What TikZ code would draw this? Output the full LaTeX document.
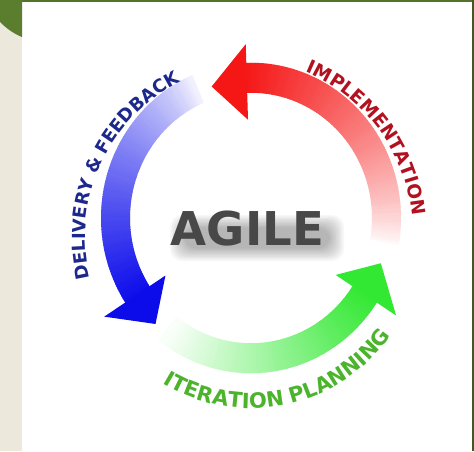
\documentclass[tikz,border=0pt]{standalone}
\usepackage{fontspec}
\newfontfamily\agfont{DejaVu Sans}
\usetikzlibrary{decorations.text}
\definecolor{agred}{RGB}{245,22,22}
\definecolor{agblue}{RGB}{12,12,235}
\definecolor{aggreen}{RGB}{50,232,50}
\definecolor{agnavy}{RGB}{28,40,140}
\definecolor{agdred}{RGB}{178,18,32}
\definecolor{agdgreen}{RGB}{76,180,44}
\definecolor{aggray}{RGB}{72,72,72}
\definecolor{agbeige}{RGB}{236,233,220}
\definecolor{agframe}{RGB}{84,116,44}
\definecolor{agtri}{RGB}{90,125,46}
\definecolor{agedge}{RGB}{66,88,40}
\begin{document}
\begin{tikzpicture}[x=1pt,y=1pt,
  curvetext/.style={decorate, decoration={text along path, text align=center, #1}}]
\useasboundingbox (0,0) rectangle (474,451);
\fill[white] (0,0) rectangle (474,451);
\fill[agbeige] (0,0) rectangle (22,451);
\fill[agframe] (0,449) rectangle (474,451);
\fill[agedge] (472,0) rectangle (474,451);
\fill[agtri] (0,451) -- (22,451) -- (22,414) .. controls (14,417) and (6,423) .. (0,429) -- cycle;
% ring arrows
\begin{scope}[shift={(251,233)}, yscale=1.035]
  % red
  \foreach \a in {-10,-9,...,91} {
    \pgfmathtruncatemacro\p{max(2,100*((\a+11)/103)^0.75)}
    \fill[agred!\p!white] (\a:121) arc[start angle=\a, end angle=\a+1.4, radius=121]
      -- (\a+1.4:150) arc[start angle=\a+1.4, end angle=\a, radius=150] -- cycle;
  }
  \fill[agred] (91.8:95) -- (107.2:133) -- (91.8:168) -- cycle;
  % blue
  \foreach \a in {113,114,...,212} {
    \pgfmathtruncatemacro\p{max(6,100*((\a-112)/101)^0.7)}
    \fill[agblue!\p!white] (\a:121) arc[start angle=\a, end angle=\a+1.4, radius=121]
      -- (\a+1.4:150) arc[start angle=\a+1.4, end angle=\a, radius=150] -- cycle;
  }
  \fill[agblue] (213:102) -- (227:140) -- (213:175) -- cycle;
  % green
  \foreach \a in {232,233,...,326} {
    \pgfmathtruncatemacro\p{max(3,100*((\a-231)/96)^1.0)}
    \fill[aggreen!\p!white] (\a:121) arc[start angle=\a, end angle=\a+1.4, radius=121]
      -- (\a+1.4:150) arc[start angle=\a+1.4, end angle=\a, radius=150] -- cycle;
  }
  \fill[aggreen] (327:101) -- (341.4:137) -- (327:173) -- cycle;
\end{scope}
% AGILE soft shadow
\foreach \i in {0,1,...,9} {
  \fill[black, opacity=0.03, rounded corners=12pt]
    (170+1.6*\i,190+1.4*\i) rectangle (344-1.6*\i,236-1.4*\i);
}
\node[font=\agfont\bfseries\fontsize{46.6}{50}\selectfont, text=aggray, anchor=base, inner sep=0pt] (agile) at (247.5,206) {AGILE};
% curved labels
\path[curvetext={text color=agnavy, text={|\agfont\bfseries\fontsize{18}{20}\selectfont|DELIVERY {\&} FEEDBACK}}]
  (258.6,214.4) ++(205.3:173.5) arc[start angle=205.3, end angle=105.3, radius=173.5];
\path[curvetext={text color=agdred, text={|\agfont\bfseries\fontsize{18.6}{20}\selectfont|IMPLEMENTATION}}]
  (238.3,218) ++(81.5:174.5) arc[start angle=81.5, end angle=-8.5, radius=174.5];
\path[curvetext={text color=agdgreen, text={|\agfont\bfseries\fontsize{21}{22}\selectfont|ITERATION PLANNING}}]
  (251.5,212.2) ++(226.9:169.5) arc[start angle=226.9, end angle=336.9, radius=169.5];
\end{tikzpicture}
\end{document}
